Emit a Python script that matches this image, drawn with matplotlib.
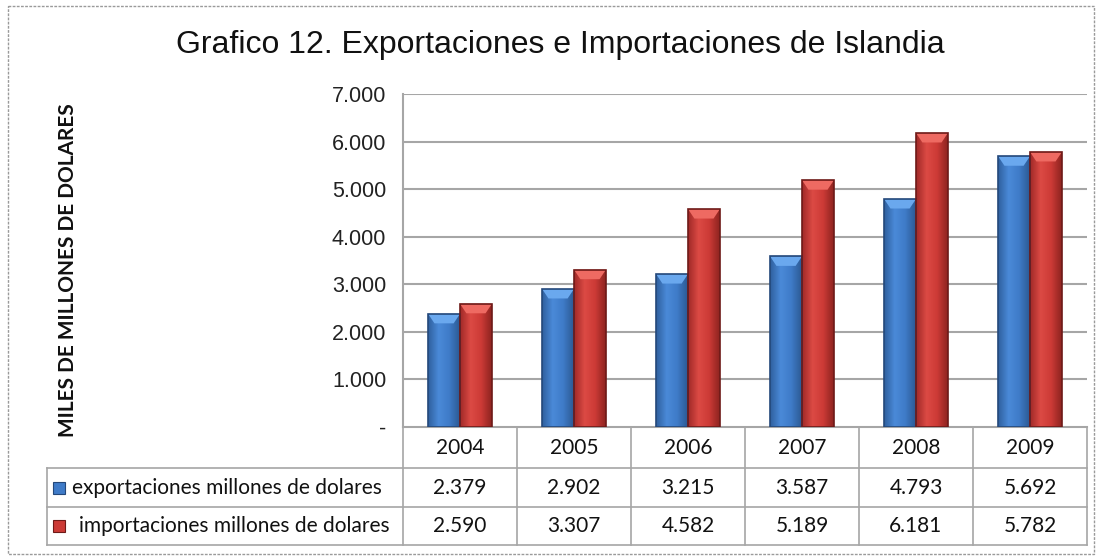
import matplotlib
matplotlib.use("Agg")
import matplotlib.pyplot as plt
import numpy as np
from matplotlib.patches import Rectangle, Polygon
from matplotlib.colors import LinearSegmentedColormap

years = ["2004", "2005", "2006", "2007", "2008", "2009"]
exportaciones = [2379, 2902, 3215, 3587, 4793, 5692]
importaciones = [2590, 3307, 4582, 5189, 6181, 5782]
series_names = ["exportaciones millones de dolares", "importaciones millones de dolares"]
yticks = [0, 1000, 2000, 3000, 4000, 5000, 6000, 7000]

W, H = 1102, 558
fig = plt.figure(figsize=(W / 100, H / 100), dpi=100)

# pixel layout
px_left, px_right, px_top, px_bot = 403, 1087, 94, 427
tab_left = 47
row_lines = [427, 468, 507, 545]

def fx(x):
    return x / W

def fy(y):
    return 1 - y / H

# background overlay axes in pixel coords
bg = fig.add_axes([0, 0, 1, 1], zorder=0)
bg.set_xlim(0, W)
bg.set_ylim(H, 0)
bg.axis("off")
bg.add_patch(Rectangle((8, 6), W - 16, H - 10, fill=False, ec="#9a9a9a", lw=1, ls=(0, (2, 1))))

ax = fig.add_axes([fx(px_left), fy(px_bot), fx(px_right - px_left), (px_bot - px_top) / H], zorder=2)
ax.set_xlim(0, len(years))
ax.set_ylim(0, 7000)
ax.patch.set_alpha(0)
for s in ["top", "right", "bottom"]:
    ax.spines[s].set_visible(False)
ax.spines["left"].set_color("#a6a6a6")
ax.spines["left"].set_linewidth(1.5)
ax.set_yticks(yticks)
ax.set_yticklabels(["-"] + [f"{v:,}".replace(",", ".") for v in yticks[1:]],
                   fontfamily="Liberation Sans", fontsize=15.5, color="#222222")
ax.tick_params(axis="y", length=0, pad=12)
ax.set_xticks([])
for v in yticks[1:]:
    ax.axhline(v, color="#a6a6a6", lw=1.5, zorder=1)

blue_cmap = LinearSegmentedColormap.from_list("b", ["#2f5f9e", "#4a8ad8", "#3f7bc8", "#2c5a94"])
red_cmap = LinearSegmentedColormap.from_list("r", ["#a02a28", "#dc4a44", "#cc3a36", "#8e2420"])
grad = np.linspace(0, 1, 64).reshape(1, -1)
bw = 0.28

def draw_bar(x0, h, cmap, edge, top):
    rect = Rectangle((x0, 0), bw, h, fc="none", ec=edge, lw=1.2, zorder=4)
    ax.add_patch(rect)
    im = ax.imshow(grad, cmap=cmap, extent=(x0, x0 + bw, 0, h), aspect="auto",
                   origin="lower", zorder=3)
    im.set_clip_path(rect)
    bh = 200
    ax.add_patch(Polygon([(x0, h), (x0 + bw, h), (x0 + bw * 0.8, h - bh), (x0 + bw * 0.2, h - bh)],
                         closed=True, fc=top, ec="none", zorder=3.5))

for i in range(len(years)):
    c = i + 0.5
    draw_bar(c - bw, exportaciones[i], blue_cmap, "#24487a", "#6aa8ee")
    draw_bar(c, importaciones[i], red_cmap, "#6e1a18", "#ee6a62")

ax.set_xlim(0, len(years))
ax.set_ylim(0, 7000)

# table
grid_c = "#a6a6a6"
col_w = (px_right - px_left) / len(years)
bg.plot([px_left, px_right], [row_lines[0]] * 2, color=grid_c, lw=1.5)
for y in row_lines[1:]:
    bg.plot([tab_left, px_right], [y, y], color=grid_c, lw=1.2)
bg.plot([tab_left, tab_left], [row_lines[1], row_lines[3]], color=grid_c, lw=1.2)
for i in range(len(years) + 1):
    x = px_left + i * col_w
    bg.plot([x, x], [row_lines[0], row_lines[3]], color=grid_c, lw=1.2)

tfont = dict(family="Lato", fontsize=15, color="#111111")
for i, yr in enumerate(years):
    cx = px_left + (i + 0.5) * col_w
    bg.text(cx, (row_lines[0] + row_lines[1]) / 2, yr, ha="center", va="center", **tfont)
    bg.text(cx, (row_lines[1] + row_lines[2]) / 2, f"{exportaciones[i]:,}".replace(",", "."),
            ha="center", va="center", **tfont)
    bg.text(cx, (row_lines[2] + row_lines[3]) / 2, f"{importaciones[i]:,}".replace(",", "."),
            ha="center", va="center", **tfont)

legend_cols = [("#3f7bc8", "#24487a"), ("#cc3a36", "#6e1a18")]
for k, name in enumerate(series_names):
    yc = (row_lines[k + 1] + row_lines[k + 2]) / 2
    fc, ec = legend_cols[k]
    bg.add_patch(Rectangle((53, yc - 6), 12, 12, fc=fc, ec=ec, lw=0.8))
    bg.text(72 + 7 * k, yc, name, ha="left", va="center", **tfont)

fig.text(fx(560), fy(45), "Grafico 12. Exportaciones e Importaciones de Islandia",
         ha="center", va="center", fontfamily="Liberation Sans", fontsize=23, color="#111111")
fig.text(fx(68), fy(270), "MILES DE MILLONES DE DOLARES", rotation=90, ha="center", va="center",
         fontfamily="Lato", fontweight="bold", fontsize=15, color="#111111")

fig.savefig("out.png", dpi=100)
